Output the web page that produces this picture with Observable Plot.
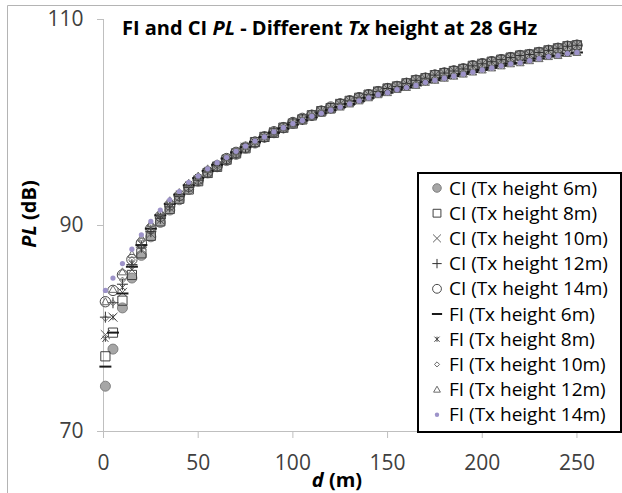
<!DOCTYPE html>
<html>
<head>
<meta charset="utf-8">
<script src="https://cdn.jsdelivr.net/npm/d3@7"></script>
<script src="https://cdn.jsdelivr.net/npm/@observablehq/plot@0.6"></script>
<style>
html, body { margin: 0; padding: 0; background: #fff; }
#chart svg { display: block; }
</style>
</head>
<body>
<div id="chart"></div>
<script>
// ---- data ----
const distance = [1, 5, 10, 15, 20, 25, 30, 35, 40, 45, 50, 55, 60, 65, 70, 75, 80, 85, 90, 95, 100,
  105, 110, 115, 120, 125, 130, 135, 140, 145, 150, 155, 160, 165, 170, 175, 180, 185, 190, 195, 200,
  205, 210, 215, 220, 225, 230, 235, 240, 245, 250];

const seriesLabels = ["CI (Tx height 6m)", "CI (Tx height 8m)", "CI (Tx height 10m)", "CI (Tx height 12m)", "CI (Tx height 14m)",
  "FI (Tx height 6m)", "FI (Tx height 8m)", "FI (Tx height 10m)", "FI (Tx height 12m)", "FI (Tx height 14m)"];

const ci6 = [74.4, 78.0, 82.0, 84.9, 87.1, 88.9, 90.3, 91.5, 92.5, 93.5, 94.3, 95.1, 95.7, 96.3, 96.9, 97.5, 98.0, 98.6, 99.0, 99.5, 99.9,
  100.3, 100.7, 101.1, 101.4, 101.8, 102.1, 102.4, 102.7, 103.0, 103.3, 103.5, 103.8, 104.1, 104.3, 104.6, 104.8, 105.0, 105.2, 105.5, 105.7,
  105.9, 106.1, 106.3, 106.5, 106.6, 106.8, 107.0, 107.2, 107.4, 107.5];
const ci8 = [77.3, 79.6, 82.7, 85.2, 87.3, 89.0, 90.4, 91.6, 92.6, 93.5, 94.3, 95.1, 95.7, 96.4, 97.0, 97.5, 98.1, 98.6, 99.0, 99.5, 99.9,
  100.3, 100.7, 101.1, 101.4, 101.8, 102.1, 102.4, 102.7, 103.0, 103.3, 103.5, 103.8, 104.1, 104.3, 104.6, 104.8, 105.0, 105.2, 105.5, 105.7,
  105.9, 106.1, 106.3, 106.5, 106.6, 106.8, 107.0, 107.2, 107.4, 107.5];
const ci10 = [79.4, 81.1, 83.5, 85.7, 87.6, 89.2, 90.5, 91.7, 92.7, 93.6, 94.4, 95.1, 95.7, 96.4, 97.0, 97.6, 98.1, 98.6, 99.1, 99.5, 99.9,
  100.3, 100.7, 101.1, 101.4, 101.8, 102.1, 102.4, 102.7, 103.0, 103.3, 103.5, 103.8, 104.1, 104.3, 104.6, 104.8, 105.0, 105.2, 105.5, 105.7,
  105.9, 106.1, 106.3, 106.5, 106.6, 106.8, 107.0, 107.2, 107.4, 107.5];
const ci12 = [81.1, 82.5, 84.3, 86.2, 87.9, 89.4, 90.7, 91.8, 92.8, 93.7, 94.4, 95.2, 95.8, 96.4, 97.0, 97.6, 98.1, 98.6, 99.1, 99.5, 100.0,
  100.3, 100.7, 101.1, 101.4, 101.8, 102.1, 102.4, 102.7, 103.0, 103.3, 103.5, 103.8, 104.1, 104.3, 104.6, 104.8, 105.0, 105.2, 105.5, 105.7,
  105.9, 106.1, 106.3, 106.5, 106.6, 106.8, 107.0, 107.2, 107.4, 107.5];
const ci14 = [82.6, 83.7, 85.2, 86.7, 88.3, 89.7, 90.9, 92.0, 92.9, 93.8, 94.5, 95.2, 95.8, 96.5, 97.1, 97.6, 98.1, 98.6, 99.1, 99.5, 100.0,
  100.4, 100.7, 101.1, 101.5, 101.8, 102.1, 102.4, 102.7, 103.0, 103.3, 103.5, 103.8, 104.1, 104.3, 104.6, 104.8, 105.0, 105.2, 105.5, 105.7,
  105.9, 106.1, 106.3, 106.5, 106.6, 106.8, 107.0, 107.2, 107.4, 107.5];
const fi6 = [76.3, 79.6, 83.4, 86.0, 88.1, 89.7, 91.0, 92.1, 93.0, 93.9, 94.6, 95.3, 95.9, 96.5, 97.1, 97.6, 98.1, 98.6, 99.0, 99.4, 99.8,
  100.2, 100.5, 100.9, 101.2, 101.5, 101.8, 102.1, 102.4, 102.7, 102.9, 103.2, 103.4, 103.6, 103.9, 104.1, 104.3, 104.5, 104.7, 104.9, 105.1,
  105.3, 105.5, 105.7, 105.8, 106.0, 106.2, 106.4, 106.5, 106.7, 106.8];
const fi8 = [79.0, 81.1, 84.0, 86.3, 88.2, 89.8, 91.0, 92.2, 93.1, 94.0, 94.7, 95.4, 95.9, 96.5, 97.1, 97.6, 98.1, 98.6, 99.0, 99.4, 99.8,
  100.2, 100.5, 100.9, 101.2, 101.5, 101.8, 102.1, 102.4, 102.7, 102.9, 103.2, 103.4, 103.6, 103.9, 104.1, 104.3, 104.5, 104.7, 104.9, 105.1,
  105.3, 105.5, 105.7, 105.8, 106.0, 106.2, 106.4, 106.5, 106.7, 106.8];
const fi10 = [81.0, 82.5, 84.7, 86.7, 88.5, 90.0, 91.2, 92.3, 93.1, 94.0, 94.7, 95.4, 96.0, 96.6, 97.1, 97.7, 98.1, 98.6, 99.0, 99.4, 99.8,
  100.2, 100.6, 100.9, 101.2, 101.5, 101.8, 102.1, 102.4, 102.7, 102.9, 103.2, 103.4, 103.6, 103.9, 104.1, 104.3, 104.5, 104.7, 104.9, 105.1,
  105.3, 105.5, 105.7, 105.8, 106.0, 106.2, 106.4, 106.5, 106.7, 106.8];
const fi12 = [82.6, 83.8, 85.5, 87.2, 88.8, 90.2, 91.3, 92.4, 93.2, 94.1, 94.8, 95.5, 96.0, 96.6, 97.2, 97.7, 98.2, 98.6, 99.0, 99.5, 99.8,
  100.2, 100.6, 100.9, 101.2, 101.5, 101.8, 102.1, 102.4, 102.7, 102.9, 103.2, 103.4, 103.6, 103.9, 104.1, 104.3, 104.5, 104.7, 104.9, 105.1,
  105.3, 105.5, 105.7, 105.8, 106.0, 106.2, 106.4, 106.5, 106.7, 106.8];
const fi14 = [83.7, 84.9, 86.3, 87.7, 89.1, 90.4, 91.5, 92.5, 93.3, 94.2, 94.8, 95.5, 96.1, 96.6, 97.2, 97.7, 98.2, 98.6, 99.1, 99.5, 99.9,
  100.2, 100.6, 100.9, 101.2, 101.5, 101.8, 102.1, 102.4, 102.7, 102.9, 103.2, 103.4, 103.6, 103.9, 104.1, 104.3, 104.5, 104.7, 104.9, 105.1,
  105.3, 105.5, 105.7, 105.8, 106.0, 106.2, 106.4, 106.5, 106.7, 106.8];

const xTicks = [0, 50, 100, 150, 200, 250];
const yTicks = [70, 90, 110];

// ---- build table ----
const seriesValues = [ci6, ci8, ci10, ci12, ci14, fi6, fi8, fi10, fi12, fi14];
const rows = seriesLabels.flatMap((s, i) => distance.map((d, j) => ({series: s, d, pl: seriesValues[i][j]})));

// ---- marker shapes (Excel-like) ----
const rad = (size) => Math.sqrt(size / Math.PI);
const sym = {
  circle: {draw(c, size) { const r = rad(size); c.moveTo(r, 0); c.arc(0, 0, r, 0, 2 * Math.PI); }},
  square: {draw(c, size) { const r = rad(size); c.rect(-r, -r, 2 * r, 2 * r); }},
  times: {draw(c, size) { const r = rad(size); c.moveTo(-r, -r); c.lineTo(r, r); c.moveTo(r, -r); c.lineTo(-r, r); }},
  plus: {draw(c, size) { const r = rad(size); c.moveTo(-r, 0); c.lineTo(r, 0); c.moveTo(0, -r); c.lineTo(0, r); }},
  dash: {draw(c, size) { const r = rad(size); c.moveTo(-r, 0); c.lineTo(r, 0); }},
  star: {draw(c, size) { const r = rad(size); c.moveTo(-r, -r); c.lineTo(r, r); c.moveTo(r, -r); c.lineTo(-r, r); c.moveTo(0, -r); c.lineTo(0, r); }},
  diamond: {draw(c, size) { const r = rad(size); c.moveTo(0, -r); c.lineTo(r, 0); c.lineTo(0, r); c.lineTo(-r, 0); c.closePath(); }},
  triangle: {draw(c, size) { const r = rad(size); c.moveTo(0, -r); c.lineTo(r, 0.75 * r); c.lineTo(-r, 0.75 * r); c.closePath(); }}
};
const styles = [
  {symbol: sym.circle, r: 5, fill: "#a6a6a6", stroke: "#808080", sw: 1},
  {symbol: sym.square, r: 4.6, fill: "none", stroke: "#404040", sw: 1},
  {symbol: sym.times, r: 4.6, fill: "none", stroke: "#606060", sw: 1},
  {symbol: sym.plus, r: 5.5, fill: "none", stroke: "#303030", sw: 1},
  {symbol: sym.circle, r: 5.2, fill: "none", stroke: "#4a4a4a", sw: 1},
  {symbol: sym.dash, r: 6, fill: "none", stroke: "#1a1a1a", sw: 2},
  {symbol: sym.star, r: 3, fill: "none", stroke: "#404040", sw: 1},
  {symbol: sym.diamond, r: 3, fill: "none", stroke: "#6a6a6a", sw: 1},
  {symbol: sym.triangle, r: 4, fill: "none", stroke: "#6a6a6a", sw: 1},
  {symbol: sym.circle, r: 2.6, fill: "#9d93c9", stroke: "none", sw: 0}
];

const FONT = "'Open Sans', sans-serif";
const AXIS = "#bfbfbf";

const chart = Plot.plot({
  width: 622,
  height: 493,
  marginLeft: 103,
  marginRight: 2,
  marginTop: 19,
  marginBottom: 62,
  x: {domain: [0, 273]},
  y: {domain: [70, 110]},
  style: {fontFamily: FONT, color: "#404040", background: "white", overflow: "visible"},
  marks: [
    Plot.ruleX([0], {stroke: AXIS}),
    Plot.ruleY([70], {stroke: AXIS}),
    Plot.axisX({ticks: xTicks, tickSize: 7, tickPadding: 17, fontSize: 21, stroke: AXIS, label: null}),
    Plot.axisY({ticks: yTicks, tickSize: 6, tickPadding: 14, fontSize: 21, stroke: AXIS, label: null}),
    ...styles.map((s, i) => Plot.dot(rows.filter(r => r.series === seriesLabels[i]), {
      x: "d", y: "pl", symbol: s.symbol, r: s.r, fill: s.fill, stroke: s.stroke, strokeWidth: s.sw
    }))
  ]
});

const svg = d3.select(chart);

// chart-area border (cropped)
svg.append("path").attr("d", "M7.5,493V5.5H622").attr("fill", "none").attr("stroke", "#b4b4b4");

// title
const title = svg.append("text").attr("x", 122).attr("y", 35).attr("text-anchor", "start")
  .attr("font-size", 20).attr("font-weight", "bold").attr("fill", "#000").attr("font-family", FONT);
title.append("tspan").text("FI and CI ");
title.append("tspan").attr("font-style", "italic").text("PL");
title.append("tspan").text(" - Different ");
title.append("tspan").attr("font-style", "italic").text("Tx");
title.append("tspan").text(" height at 28 GHz");

// y label
const yl = svg.append("text").attr("transform", "translate(29,214) rotate(-90)")
  .attr("text-anchor", "middle").attr("dy", "0.35em").attr("font-size", 20)
  .attr("font-weight", "bold").attr("fill", "#000").attr("font-family", FONT);
yl.append("tspan").attr("font-style", "italic").text("PL");
yl.append("tspan").text(" (dB)");

// x label
const xl = svg.append("text").attr("x", 337).attr("y", 480)
  .attr("text-anchor", "middle").attr("dy", "0.35em").attr("font-size", 20)
  .attr("font-weight", "bold").attr("fill", "#000").attr("font-family", FONT);
xl.append("tspan").attr("font-style", "italic").text("d");
xl.append("tspan").text(" (m)");

// legend
const lg = svg.append("g").attr("font-family", FONT).attr("text-anchor", "start");
lg.append("rect").attr("x", 418).attr("y", 173).attr("width", 203).attr("height", 259)
  .attr("fill", "white").attr("stroke", "#000").attr("stroke-width", 2);
seriesLabels.forEach((lab, i) => {
  const cy = 188 + i * 25.2;
  const s = styles[i];
  const rr = s.r * 0.85;
  lg.append("path").attr("transform", `translate(437,${cy})`)
    .attr("d", d3.symbol(s.symbol, Math.PI * rr * rr)())
    .attr("fill", s.fill).attr("stroke", s.stroke).attr("stroke-width", s.sw);
  lg.append("text").attr("x", 449).attr("y", cy).attr("dy", "0.35em").attr("text-anchor", "start")
    .attr("font-size", 19).attr("fill", "#000").text(lab);
});

document.getElementById("chart").appendChild(chart);
</script>
</body>
</html>
